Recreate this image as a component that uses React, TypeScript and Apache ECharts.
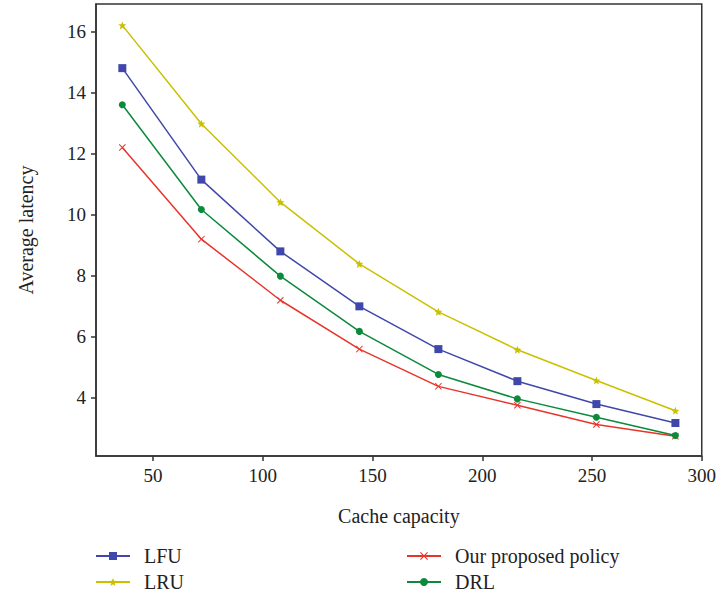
import React, { useEffect, useRef } from "react";
import * as echarts from "echarts";

const capacities = [36, 72, 108, 144, 180, 216, 252, 288];
const lfu = [14.8, 11.15, 8.8, 7.0, 5.6, 4.55, 3.8, 3.18];
const lru = [16.2, 12.98, 10.41, 8.39, 6.82, 5.58, 4.57, 3.58];
const ours = [12.2, 9.2, 7.2, 5.6, 4.38, 3.76, 3.13, 2.75];
const drl = [13.6, 10.17, 7.99, 6.18, 4.77, 3.97, 3.37, 2.77];
const xTicks = [50, 100, 150, 200, 250, 300];
const yTicks = [4, 6, 8, 10, 12, 14, 16];

const STAR =
  "path://M12,2 L14.9,8.9 L22.5,9.2 L16.6,14 L18.6,21.5 L12,17.3 L5.4,21.5 L7.4,14 L1.5,9.2 L9.1,8.9 Z";
const CROSS =
  "path://M0,1 L1,0 L5,4 L9,0 L10,1 L6,5 L10,9 L9,10 L5,6 L1,10 L0,9 L4,5 Z";

const FONT = "'Liberation Serif', 'DejaVu Serif', serif";

export default function App() {
  const ref = useRef<HTMLDivElement>(null);
  useEffect(() => {
    if (!ref.current) return;
    const chart = echarts.init(ref.current, undefined, { renderer: "svg" });
    const mk = (name: string, data: number[], color: string, symbol: string, size: number) => ({
      name,
      type: "line",
      data: capacities.map((c, i) => [c, data[i]]),
      symbol,
      symbolSize: size,
      lineStyle: { color, width: 1.5 },
      itemStyle: { color },
      z: 3,
    });
    const leg = (name: string, left: number, top: number) => ({
      data: [name],
      orient: "horizontal",
      left,
      top,
      padding: 0,
      itemWidth: 34,
      itemHeight: 10,
      textStyle: {
        fontSize: 20,
        lineHeight: 20,
        color: "#222",
        fontFamily: FONT,
        padding: [0, 0, 0, 9],
      },
    });
    chart.setOption({
      animation: false,
      backgroundColor: "#fff",
      textStyle: { fontFamily: FONT },
      grid: {
        left: 96,
        right: 16,
        top: 4,
        bottom: 139,
        show: true,
        borderColor: "#333",
        borderWidth: 1.5,
        backgroundColor: "transparent",
      },
      legend: [
        leg("LFU", 95, 546),
        leg("LRU", 95, 572),
        leg("Our proposed policy", 406, 546),
        leg("DRL", 406, 572),
      ],
      xAxis: {
        type: "value",
        min: 24,
        max: 300,
        name: "Cache capacity",
        nameLocation: "middle",
        nameGap: 50,
        nameTextStyle: { fontSize: 20, color: "#222", fontFamily: FONT },
        axisLine: { lineStyle: { color: "#333", width: 1.5 } },
        axisTick: { show: true, length: 5, customValues: xTicks, lineStyle: { color: "#333", width: 1.5 } },
        axisLabel: { customValues: xTicks, fontSize: 19, color: "#222", margin: 10, fontFamily: FONT },
        splitLine: { show: false },
      },
      yAxis: {
        type: "value",
        min: 2.1,
        max: 16.9,
        name: "Average latency",
        nameLocation: "middle",
        nameGap: 60,
        nameRotate: 90,
        nameTextStyle: { fontSize: 20, color: "#222", fontFamily: FONT },
        axisLine: { show: true, lineStyle: { color: "#333", width: 1.5 } },
        axisTick: { show: true, length: 5, customValues: yTicks, lineStyle: { color: "#333", width: 1.5 } },
        axisLabel: { customValues: yTicks, fontSize: 19, color: "#222", margin: 10, fontFamily: FONT },
        splitLine: { show: false },
      },
      series: [
        mk("LFU", lfu, "#3F48AA", "rect", 8),
        mk("LRU", lru, "#C9C000", STAR, 8),
        mk("Our proposed policy", ours, "#E8352C", CROSS, 7),
        mk("DRL", drl, "#0B8A3C", "circle", 7),
      ],
    });
    return () => chart.dispose();
  }, []);
  return <div ref={ref} style={{ width: 719, height: 595, position: "absolute", left: 0, top: 0 }} />;
}
